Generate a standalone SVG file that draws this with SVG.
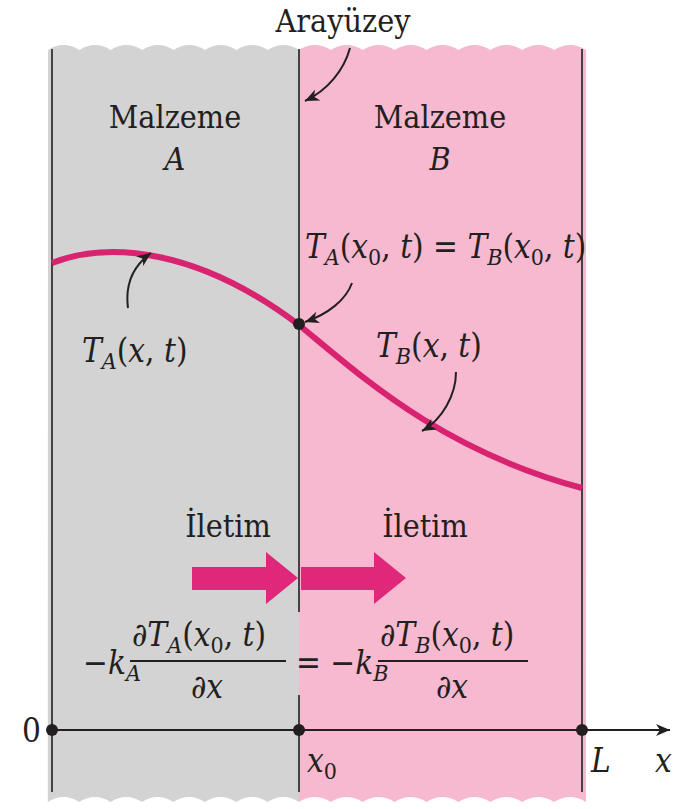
<svg xmlns="http://www.w3.org/2000/svg" width="683" height="809" viewBox="0 0 683 809">
<style>
.t,.m{font-family:'DejaVu Serif Condensed','DejaVu Serif','Liberation Serif',serif;font-stretch:condensed;fill:#231f20}
.t{font-size:32px}
.m{font-size:33px}
.i{font-style:italic}
.sub{font-size:23px}
.ln{stroke:#333;stroke-width:1.8;fill:none}
.lead{stroke:#231f20;stroke-width:2;fill:none}
</style>
<defs>
<marker id="ah" markerUnits="userSpaceOnUse" markerWidth="16" markerHeight="12" refX="14" refY="6" orient="auto">
<path d="M0,0 L14,6 L0,12 L4,6 z" fill="#231f20"/>
</marker>
</defs>
<rect width="683" height="809" fill="#fff"/>
<g id="materialA">
<path d="M48,50 q15.7,-10 31.4,0 q15.7,-10 31.4,0 q15.7,-10 31.4,0 q15.7,-10 31.4,0 q15.7,-10 31.4,0 q15.7,-10 31.4,0 q15.7,-10 31.4,0 q15.7,-10 31.4,0 L299,802 q-15.7,-10 -31.4,0 q-15.7,-10 -31.4,0 q-15.7,-10 -31.4,0 q-15.7,-10 -31.4,0 q-15.7,-10 -31.4,0 q-15.7,-10 -31.4,0 q-15.7,-10 -31.4,0 q-15.7,-10 -31.4,0 z" fill="#d3d3d3"/>
<text class="t" x="175" y="128" text-anchor="middle">Malzeme</text>
<text class="t i" x="175" y="170" text-anchor="middle">A</text>
</g>
<g id="materialB">
<path d="M299,50 q15.9,-10 31.9,0 q15.9,-10 31.9,0 q15.9,-10 31.9,0 q15.9,-10 31.9,0 q15.9,-10 31.9,0 q15.9,-10 31.9,0 q15.9,-10 31.9,0 q15.9,-10 31.9,0 q15.9,-10 31.9,0 L586,802 q-15.9,-10 -31.9,0 q-15.9,-10 -31.9,0 q-15.9,-10 -31.9,0 q-15.9,-10 -31.9,0 q-15.9,-10 -31.9,0 q-15.9,-10 -31.9,0 q-15.9,-10 -31.9,0 q-15.9,-10 -31.9,0 q-15.9,-10 -31.9,0 z" fill="#f7b9d0"/>
<text class="t" x="440" y="128" text-anchor="middle">Malzeme</text>
<text class="t i" x="440" y="170" text-anchor="middle">B</text>
</g>
<g id="walls">
<line class="ln" x1="52" y1="49" x2="52" y2="792"/>
<line class="ln" x1="299" y1="49" x2="299" y2="612"/>
<line class="ln" x1="299" y1="695" x2="299" y2="792"/>
<line class="ln" x1="582" y1="49" x2="582" y2="792"/>
</g>
<g id="profile">
<path d="M52,263 C110,240 200,250 299,325 C360,375 440,450 582,488" fill="none" stroke="#d82470" stroke-width="6"/>
<circle cx="299" cy="324" r="6" fill="#231f20"/>
</g>
<g id="interface-label">
<text class="t" x="343" y="32" text-anchor="middle">Arayüzey</text>
</g>
<g id="eq-continuity">
<text class="m" x="305" y="258"><tspan class="i">T</tspan><tspan class="i sub" dy="7">A</tspan><tspan dy="-7">(</tspan><tspan class="i">x</tspan><tspan class="sub" dy="7">0</tspan><tspan dy="-7">, </tspan><tspan class="i">t</tspan>) = <tspan class="i">T</tspan><tspan class="i sub" dy="7">B</tspan><tspan dy="-7">(</tspan><tspan class="i">x</tspan><tspan class="sub" dy="7">0</tspan><tspan dy="-7">, </tspan><tspan class="i">t</tspan>)</text>
</g>
<g id="label-TA">
<text class="m" x="82" y="362"><tspan class="i">T</tspan><tspan class="i sub" dy="7">A</tspan><tspan dy="-7">(</tspan><tspan class="i">x</tspan>, <tspan class="i">t</tspan>)</text>
</g>
<g id="label-TB">
<text class="m" x="376" y="357"><tspan class="i">T</tspan><tspan class="i sub" dy="7">B</tspan><tspan dy="-7">(</tspan><tspan class="i">x</tspan>, <tspan class="i">t</tspan>)</text>
</g>
<g id="conduction">
<text class="t" x="228" y="537" text-anchor="middle">İletim</text>
<text class="t" x="425" y="537" text-anchor="middle">İletim</text>
<path d="M192,567 H266 V552 L298,578 L266,604 V590 H192 z" fill="#e0287a"/>
<path d="M301,567 H374 V552 L406,578 L374,604 V590 H301 z" fill="#e0287a"/>
</g>
<g id="eq-flux">
<text class="m" x="83" y="674">−<tspan class="i">k</tspan><tspan class="i sub" dy="7">A</tspan></text>
<text class="m" x="132" y="646">∂<tspan class="i">T</tspan><tspan class="i sub" dy="7">A</tspan><tspan dy="-7">(</tspan><tspan class="i">x</tspan><tspan class="sub" dy="7">0</tspan><tspan dy="-7">, </tspan><tspan class="i">t</tspan>)</text>
<line x1="130" y1="661" x2="286" y2="661" stroke="#231f20" stroke-width="2"/>
<text class="m i" x="207" y="698" text-anchor="middle">∂x</text>
<text class="m" x="296" y="674">= −<tspan class="i">k</tspan><tspan class="i sub" dy="7">B</tspan></text>
<text class="m" x="380" y="646">∂<tspan class="i">T</tspan><tspan class="i sub" dy="7">B</tspan><tspan dy="-7">(</tspan><tspan class="i">x</tspan><tspan class="sub" dy="7">0</tspan><tspan dy="-7">, </tspan><tspan class="i">t</tspan>)</text>
<line x1="378" y1="661" x2="528" y2="661" stroke="#231f20" stroke-width="2"/>
<text class="m i" x="452" y="698" text-anchor="middle">∂x</text>
</g>
<g id="axis">
<line x1="48" y1="730" x2="670" y2="730" stroke="#231f20" stroke-width="2" marker-end="url(#ah)"/>
<circle cx="52" cy="730" r="6" fill="#231f20"/>
<circle cx="299" cy="730" r="6" fill="#231f20"/>
<circle cx="582" cy="730" r="6" fill="#231f20"/>
<text class="m" x="22" y="742">0</text>
<text class="m" x="307" y="772"><tspan class="i">x</tspan><tspan class="sub" dy="7">0</tspan></text>
<text class="m i" x="591" y="772">L</text>
<text class="m i" x="655" y="772">x</text>
</g>
<g id="connectors">
<path class="lead" d="M350,48 C344,70 328,90 305,101" marker-end="url(#ah)"/>
<path class="lead" d="M128,308 C125,285 133,266 151,253" marker-end="url(#ah)"/>
<path class="lead" d="M352,283 C346,300 328,314 305,322" marker-end="url(#ah)"/>
<path class="lead" d="M456,372 C456,395 442,420 422,431" marker-end="url(#ah)"/>
</g>
</svg>
